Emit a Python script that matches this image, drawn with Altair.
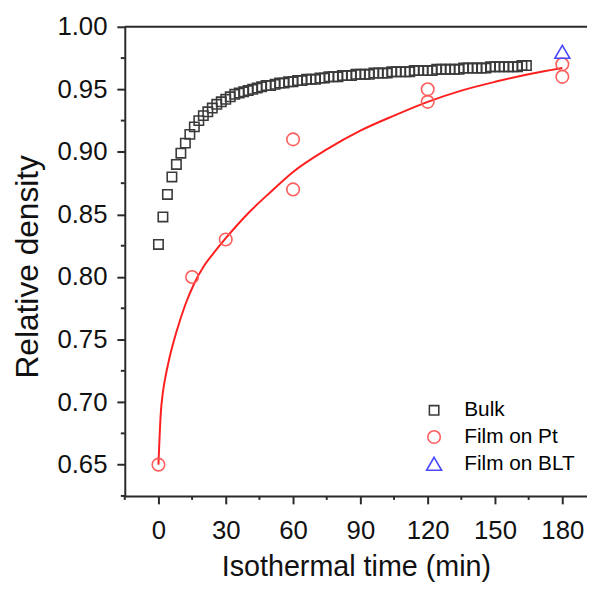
import altair as alt
import pandas as pd

# ---- data ----
bulk_time = list(range(0, 166, 2))
bulk_density = [
    0.826, 0.848, 0.866, 0.880, 0.890, 0.899, 0.907, 0.914, 0.920, 0.925,
    0.929, 0.932, 0.935, 0.938, 0.940, 0.942, 0.944, 0.946, 0.947, 0.948,
    0.949, 0.950, 0.951, 0.952, 0.953, 0.953, 0.954, 0.955, 0.955, 0.956,
    0.956, 0.957, 0.957, 0.958, 0.958, 0.958, 0.959, 0.959, 0.960, 0.960,
    0.960, 0.961, 0.961, 0.961, 0.962, 0.962, 0.962, 0.962, 0.963, 0.963,
    0.963, 0.963, 0.964, 0.964, 0.964, 0.964, 0.964, 0.965, 0.965, 0.965,
    0.965, 0.965, 0.966, 0.966, 0.966, 0.966, 0.966, 0.966, 0.967, 0.967,
    0.967, 0.967, 0.967, 0.967, 0.968, 0.968, 0.968, 0.968, 0.968, 0.968,
    0.968, 0.969, 0.969,
]
pt_time = [0, 15, 30, 60, 60, 120, 120, 180, 180]
pt_density = [0.65, 0.80, 0.83, 0.91, 0.87, 0.95, 0.94, 0.97, 0.96]
blt_time = [180]
blt_density = [0.98]

fit_time = [0, 1, 2, 3, 5, 8, 12, 16, 20, 25, 30, 40, 50, 60, 75, 90, 105, 120, 135, 150, 165, 180]
fit_density = [0.650, 0.690, 0.708, 0.719, 0.736, 0.756, 0.778, 0.795, 0.808, 0.820, 0.831,
               0.851, 0.868, 0.884, 0.902, 0.917, 0.929, 0.940, 0.949, 0.956, 0.962, 0.967]

series = ["Bulk", "Film on Pt", "Film on BLT"]
colors = ["#3a3a3a", "#ff5c5c", "#4a4aff"]
shapes = ["square", "circle", "triangle-up"]
sizes = [90, 230, 150]

x_major = [0, 30, 60, 90, 120, 150, 180]
x_minor = [-15, 15, 45, 75, 105, 135, 165]
y_major = [0.65, 0.70, 0.75, 0.80, 0.85, 0.90, 0.95, 1.00]
y_minor = [0.625, 0.675, 0.725, 0.775, 0.825, 0.875, 0.925, 0.975]

# ---- tables ----
points = pd.concat([
    pd.DataFrame({"t": bulk_time, "d": bulk_density, "s": "Bulk"}),
    pd.DataFrame({"t": pt_time, "d": pt_density, "s": "Film on Pt"}),
    pd.DataFrame({"t": blt_time, "d": blt_density, "s": "Film on BLT"}),
])
fit = pd.DataFrame({"t": fit_time, "d": fit_density})
top = pd.DataFrame({"d": [1.0]})
xminor_df = pd.DataFrame({"t": x_minor})
yminor_df = pd.DataFrame({"d": y_minor})

W, H = 467, 474
FONT = "Liberation Sans"
AX = "#2a2a2a"

xs = alt.Scale(domain=[-15, 191], nice=False, zero=False)
ys = alt.Scale(domain=[0.625, 1.0], nice=False, zero=False)

x_axis = alt.Axis(
    values=x_major,
    title="Isothermal time (min)",
    tickSize=8,
    labelBaseline="alphabetic",
    labelPadding=35,
    labelFontSize=26,
    titleFontSize=29,
    titleBaseline="alphabetic",
    titleY=80,
    titleFontWeight="normal",
    grid=False,
)
y_axis = alt.Axis(
    values=y_major,
    format=".2f",
    title="Relative density",
    tickSize=8,
    labelPadding=10,
    labelFontSize=26,
    titleFontSize=32,
    titleBaseline="alphabetic",
    titleAlign="center",
    titleAngle=-90,
    titleX=-88,
    titleY=242,
    titleFontWeight="normal",
    grid=False,
)

legend = alt.Legend(
    orient="none", legendX=302, legendY=377, title=None,
    labelFontSize=21, labelFont=FONT, symbolSize=150, symbolStrokeWidth=1.6,
    labelOffset=20, rowPadding=5, padding=0,
)

X = alt.X("t:Q", scale=xs, axis=x_axis)
Y = alt.Y("d:Q", scale=ys, axis=y_axis)

line = alt.Chart(fit).mark_line(color="#ff1f1f", strokeWidth=2, interpolate="monotone").encode(
    x=X, y=Y,
)

pts = alt.Chart(points).mark_point(filled=False, strokeWidth=1.6, opacity=1).encode(
    x=X, y=Y,
    color=alt.Color("s:N", scale=alt.Scale(domain=series, range=colors), legend=legend),
    shape=alt.Shape("s:N", scale=alt.Scale(domain=series, range=shapes), legend=legend),
    size=alt.Size("s:N", scale=alt.Scale(domain=series, range=sizes), legend=None),
)

top_rule = alt.Chart(top).mark_rule(color=AX, strokeWidth=2).encode(
    y=Y, x=alt.value(0), x2=alt.value(W),
)

x_minor_ticks = alt.Chart(xminor_df).mark_rule(color=AX, strokeWidth=2).encode(
    x=X, y=alt.value(H), y2=alt.value(H + 4),
)
y_minor_ticks = alt.Chart(yminor_df).mark_rule(color=AX, strokeWidth=2).encode(
    y=Y, x=alt.value(-4), x2=alt.value(0),
)

chart = alt.layer(line, pts, top_rule, x_minor_ticks, y_minor_ticks).properties(
    width=W, height=H,
    autosize=alt.AutoSizeParams(type="none"),
    padding={"left": 118, "top": 16, "right": 0, "bottom": 86},
).configure_view(stroke=None).configure_axis(
    labelFont=FONT, titleFont=FONT, labelColor="#111", titleColor="#111",
    domainColor=AX, domainWidth=2, tickColor=AX, tickWidth=2,
)

chart.save("out.html", embed_options={"renderer": "svg", "actions": False})
